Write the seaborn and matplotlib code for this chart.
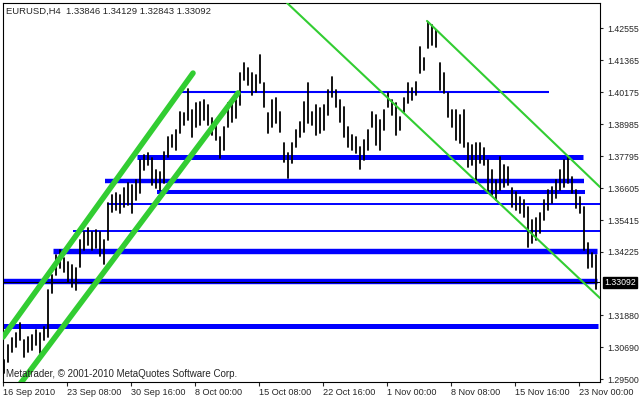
import numpy as np
import pandas as pd
import matplotlib
matplotlib.use("Agg")
import matplotlib.pyplot as plt
import seaborn as sns

sns.set_style("white")
plt.rcParams['font.family'] = ['Liberation Sans', 'DejaVu Sans']

# H4 bars (high / low per bar)
highs = [1.3021, 1.3077, 1.3103, 1.3121, 1.3158, 1.3095, 1.3106, 1.3114, 1.3132, 1.3121,
         1.3143, 1.3281, 1.3337, 1.3411, 1.3430, 1.3400, 1.3385, 1.3374, 1.3363, 1.3467,
         1.3497, 1.3512, 1.3497, 1.3504, 1.3497, 1.3467, 1.3605, 1.3635, 1.3642, 1.3635,
         1.3661, 1.3679, 1.3672, 1.3690, 1.3765, 1.3783, 1.3791, 1.3772, 1.3728, 1.3720,
         1.3795, 1.3850, 1.3858, 1.3876, 1.3943, 1.3940, 1.4029, 1.3951, 1.3977, 1.3981,
         1.3988, 1.3970, 1.3921, 1.3895, 1.3850, 1.3888, 1.3977, 1.3988, 1.3988, 1.4088,
         1.4126, 1.4107, 1.4088, 1.4081, 1.4155, 1.4051, 1.3940, 1.3988, 1.3996, 1.3943,
         1.3828, 1.3791, 1.3828, 1.3876, 1.3906, 1.3981, 1.4051, 1.3943, 1.3970, 1.3958,
         1.3970, 1.4025, 1.4073, 1.4025, 1.3988, 1.3962, 1.3888, 1.3858, 1.3850, 1.3813,
         1.3839, 1.3876, 1.3943, 1.3932, 1.3914, 1.3951, 1.4014, 1.3988, 1.3977, 1.3925,
         1.3996, 1.4051, 1.4033, 1.4055, 1.4185, 1.4144, 1.4278, 1.4267, 1.4248, 1.4126,
         1.4088, 1.4014, 1.3951, 1.3951, 1.3932, 1.3951, 1.3828, 1.3821, 1.3828, 1.3828,
         1.3810, 1.3765, 1.3728, 1.3690, 1.3776, 1.3746, 1.3739, 1.3661, 1.3646, 1.3627,
         1.3616, 1.3590, 1.3542, 1.3549, 1.3568, 1.3616, 1.3653, 1.3664, 1.3690, 1.3728,
         1.3765, 1.3776, 1.3702, 1.3653, 1.3627, 1.3590, 1.3456, 1.3419, 1.3413]
lows = [1.2972, 1.3013, 1.3051, 1.3069, 1.3095, 1.3032, 1.3051, 1.3058, 1.3077, 1.3047,
        1.3095, 1.3106, 1.3270, 1.3337, 1.3363, 1.3348, 1.3311, 1.3292, 1.3281, 1.3367,
        1.3430, 1.3449, 1.3430, 1.3437, 1.3408, 1.3378, 1.3467, 1.3571, 1.3579, 1.3568,
        1.3590, 1.3597, 1.3568, 1.3616, 1.3642, 1.3728, 1.3746, 1.3672, 1.3661, 1.3653,
        1.3679, 1.3776, 1.3813, 1.3802, 1.3865, 1.3895, 1.3914, 1.3850, 1.3888, 1.3895,
        1.3914, 1.3895, 1.3858, 1.3839, 1.3772, 1.3802, 1.3888, 1.3906, 1.3921, 1.3970,
        1.4062, 1.4044, 1.4007, 1.4018, 1.4051, 1.3962, 1.3865, 1.3888, 1.3902, 1.3869,
        1.3757, 1.3698, 1.3754, 1.3813, 1.3850, 1.3869, 1.3902, 1.3895, 1.3858, 1.3865,
        1.3876, 1.3932, 1.3999, 1.3962, 1.3906, 1.3850, 1.3813, 1.3802, 1.3791, 1.3731,
        1.3765, 1.3802, 1.3888, 1.3821, 1.3802, 1.3876, 1.3962, 1.3932, 1.3858, 1.3876,
        1.3943, 1.3977, 1.3988, 1.4007, 1.4088, 1.4100, 1.4181, 1.4193, 1.4185, 1.4025,
        1.4014, 1.3925, 1.3888, 1.3839, 1.3828, 1.3813, 1.3739, 1.3746, 1.3679, 1.3754,
        1.3746, 1.3642, 1.3635, 1.3616, 1.3653, 1.3664, 1.3672, 1.3590, 1.3579, 1.3568,
        1.3553, 1.3441, 1.3456, 1.3467, 1.3493, 1.3542, 1.3579, 1.3605, 1.3623, 1.3653,
        1.3664, 1.3679, 1.3642, 1.3586, 1.3568, 1.3430, 1.3363, 1.3367, 1.3284]

date_labels = ["16 Sep 2010", "23 Sep 08:00", "30 Sep 16:00", "8 Oct 00:00", "15 Oct 08:00",
               "22 Oct 16:00", "1 Nov 00:00", "8 Nov 08:00", "15 Nov 16:00", "23 Nov 00:00"]
price_ticks = [1.42555, 1.41365, 1.40175, 1.38985, 1.37795, 1.36605, 1.35415,
               1.34225, 1.31880, 1.30690, 1.29500]
last_close = 1.33092

# support / resistance levels: price, first bar, last bar
level_price = [1.4019, 1.3776, 1.3687, 1.3646, 1.3601, 1.3501, 1.3428, 1.3315, 1.3147]
level_from = [43.25, 33.25, 25.25, 38.25, 25.75, 17.25, 12.25, -0.25, -0.25]
level_to = [136.25, 144.75, 145.0, 145.25, 149.0, 149.0, 148.25, 148.25, 148.5]
level_lw = [1.5, 3.6, 3.2, 2.9, 1.4, 1.4, 3.9, 3.9, 3.6]

# trend lines: (bar, price) -> (bar, price)
thick_trends = [((-0.25, 1.3106), (47.25, 1.4088)),
                ((4.0, 1.2931), (58.5, 1.4014))]
thin_trends = [((70.75, 1.4349), (149.0, 1.3251)),
               ((105.75, 1.4282), (149.0, 1.3664))]

n = len(highs)
df = pd.DataFrame({'bar': np.repeat(np.arange(n), 2),
                   'price': np.ravel(np.column_stack([lows, highs]))})

fig = plt.figure(figsize=(6.4, 4.0), dpi=100)
ax = fig.add_axes([3 / 640, 18 / 400, 597 / 640, 379 / 400])

# levels
for p, a, b, w in zip(level_price, level_from, level_to, level_lw):
    ax.hlines(p, a, b, color='#0000ff', lw=w, zorder=1, capstyle='butt')
ax.axhline(last_close, color='black', lw=0.8, zorder=1.5)

# bars
sns.lineplot(data=df, x='bar', y='price', units='bar', estimator=None,
             color='black', lw=1.3, ax=ax, zorder=2, sort=False)

# trend lines
for (x0, y0), (x1, y1) in thick_trends:
    ax.plot([x0, x1], [y0, y1], color='#32cd32', lw=4.0, zorder=3,
            solid_capstyle='round')
for (x0, y0), (x1, y1) in thin_trends:
    ax.plot([x0, x1], [y0, y1], color='#32cd32', lw=1.5, zorder=3)

ax.set_xlim(-0.25, 149.0)
ax.set_ylim(1.29389, 1.43487)
ax.set_xlabel('')
ax.set_ylabel('')

ax.set_xticks([16 * k - 0.25 for k in range(len(date_labels))])
ax.set_xticklabels(date_labels)
for lbl in ax.get_xticklabels():
    lbl.set_ha('left')
ax.yaxis.tick_right()
ax.set_yticks(price_ticks)
ax.set_yticklabels(['%.5f' % v for v in price_ticks])
ax.tick_params(axis='x', direction='out', length=3, width=0.8, pad=1.5,
               labelsize=6.6, bottom=True)
ax.tick_params(axis='y', direction='out', length=2.5, width=0.8, pad=2.5,
               labelsize=6.3, right=True, left=False)
for s in ax.spines.values():
    s.set_color('black')
    s.set_linewidth(0.8)

ax.annotate('%.5f' % last_close, xy=(1.0, last_close), xycoords=('axes fraction', 'data'),
            xytext=(3.2, 0), textcoords='offset points', va='center', ha='left',
            fontsize=6.3, color='white',
            bbox=dict(boxstyle='square,pad=0.12', fc='black', ec='black'))

fig.text(6 / 640, 1 - 11 / 400, 'EURUSD,H4  1.33846 1.34129 1.32843 1.33092',
         fontsize=6.8, va='center', ha='left')
fig.text(6 / 640, 1 - 374 / 400, 'Metatrader, \u00a9 2001-2010 MetaQuotes Software Corp.',
         fontsize=7, va='center', ha='left')

fig.savefig('out.png', dpi=100)
